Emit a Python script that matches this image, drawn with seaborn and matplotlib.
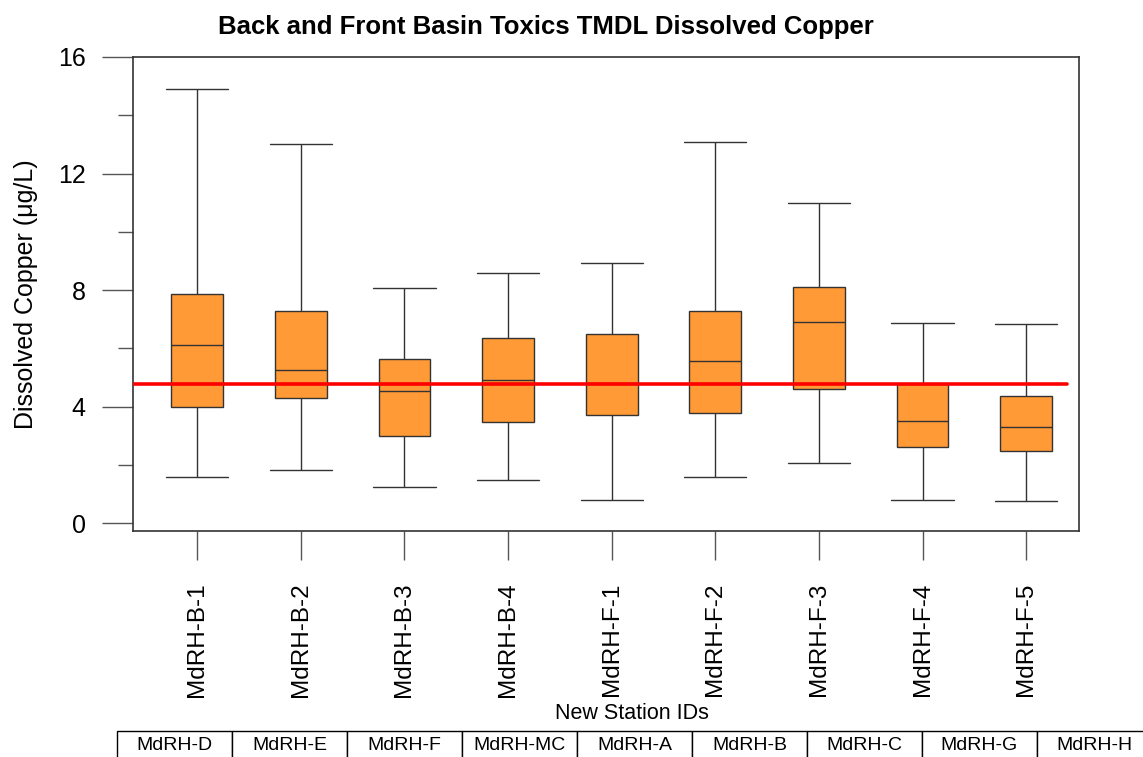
import numpy as np
import pandas as pd
import matplotlib
matplotlib.use("Agg")
import matplotlib.pyplot as plt
from matplotlib.ticker import MultipleLocator
import seaborn as sns

# new station IDs (x axis) and the old IDs shown in the strip below
stations = ['MdRH-B-1', 'MdRH-B-2', 'MdRH-B-3', 'MdRH-B-4', 'MdRH-F-1',
            'MdRH-F-2', 'MdRH-F-3', 'MdRH-F-4', 'MdRH-F-5']
old_ids = ['MdRH-D', 'MdRH-E', 'MdRH-F', 'MdRH-MC', 'MdRH-A',
           'MdRH-B', 'MdRH-C', 'MdRH-G', 'MdRH-H']

# box summaries (ug/L)
low = [1.58, 1.82, 1.25, 1.48, 0.79, 1.58, 2.08, 0.81, 0.75]
q1 = [3.98, 4.28, 2.99, 3.48, 3.70, 3.79, 4.59, 2.60, 2.48]
med = [6.10, 5.26, 4.54, 4.90, 4.80, 5.56, 6.90, 3.49, 3.29]
q3 = [7.85, 7.29, 5.64, 6.34, 6.49, 7.28, 8.11, 4.78, 4.38]
high = [14.90, 13.00, 8.07, 8.60, 8.93, 13.08, 10.99, 6.87, 6.82]

# TMDL target
target = 4.78

rows = []
for i, st in enumerate(stations):
    for v in (low[i], q1[i], med[i], q3[i], high[i]):
        rows.append({'station': st, 'cu': v})
df = pd.DataFrame(rows)

sns.set_style("white")
plt.rcParams['font.family'] = ['Liberation Sans', 'DejaVu Sans']
plt.rcParams['text.color'] = 'black'
plt.rcParams['axes.labelcolor'] = 'black'
plt.rcParams['xtick.color'] = 'black'
plt.rcParams['ytick.color'] = 'black'

fig = plt.figure(figsize=(11.43, 7.57), dpi=100)
W, H = 1143, 757
ax = fig.add_axes([133 / W, (H - 531) / H, (1079 - 133) / W, (531 - 57) / H])

line_c = '#333333'
sns.boxplot(data=df, x='station', y='cu', order=stations, ax=ax,
            color='#FF9A36', saturation=1, width=0.5, whis=(0, 100),
            linecolor=line_c, linewidth=1.0, fliersize=0,
            capwidths=0.6)

ax.axhline(target, xmin=0, xmax=(1067 - 133) / (1079 - 133),
           color='#FF0000', lw=2.6, zorder=5)

ax.set_xlim(-0.62, 8.51)
ax.set_ylim(-0.27, 16)
ax.yaxis.set_major_locator(MultipleLocator(4))
ax.yaxis.set_minor_locator(MultipleLocator(2))

for sp in ax.spines.values():
    sp.set_color(line_c)
    sp.set_linewidth(1.2)

ax.tick_params(axis='y', which='major', left=True, length=22, width=1,
               color='#555555', labelcolor='black', labelsize=18, pad=12)
ax.tick_params(axis='y', which='minor', left=True, length=11, width=1,
               color='#555555')
ax.tick_params(axis='x', bottom=True, length=21, width=1, color='#555555',
               labelcolor='black', labelsize=17.5, pad=16)
ax.set_xticks(range(len(stations)))
ax.set_xticklabels(stations, rotation=90)

ax.set_ylabel('Dissolved Copper (μg/L)', fontsize=18, color='black')
ax.yaxis.set_label_coords(-0.100, 0.5)
ax.set_xlabel('New Station IDs', fontsize=15.5, va='top', color='black')
ax.xaxis.set_label_coords(0.527, -0.363)

fig.text(546 / W, 1 - 27 / H, 'Back and Front Basin Toxics TMDL Dissolved Copper',
         ha='center', va='center', fontsize=18.5, fontweight='bold', color='black')

# old station IDs strip
tax = fig.add_axes([117 / W, -2 / H, (9 * 115) / W, 28 / H])
tax.axis('off')
tbl = tax.table(cellText=[old_ids], cellLoc='center', bbox=[0, 0, 1, 1])
tbl.auto_set_font_size(False)
tbl.set_fontsize(14)
for cell in tbl.get_celld().values():
    cell.set_edgecolor('black')
    cell.set_linewidth(1.0)
    cell.get_text().set_color('black')

fig.savefig('out.png', dpi=100)
